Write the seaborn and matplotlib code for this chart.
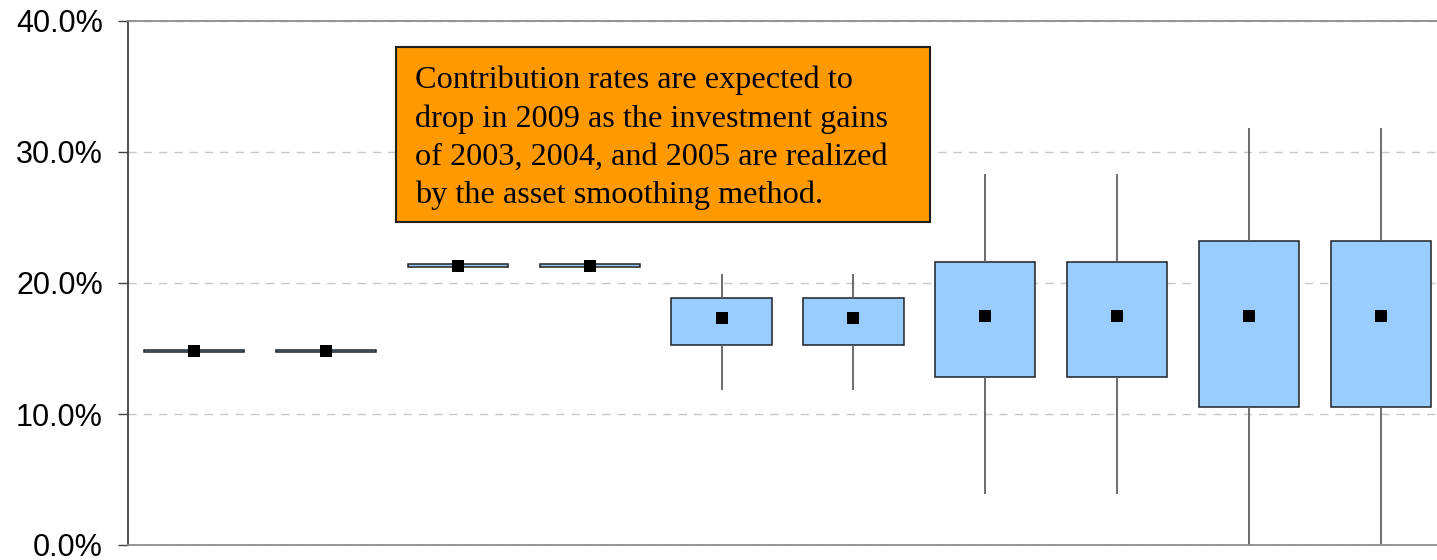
import numpy as np
import pandas as pd
import matplotlib
matplotlib.use("Agg")
import matplotlib.pyplot as plt
import matplotlib.patches as mpatches
from matplotlib.ticker import PercentFormatter, MultipleLocator
import seaborn as sns

# =======================================
# Data (percent)
# =======================================
CATEGORIES = ["2007 A", "2007 B", "2008 A", "2008 B", "2009 A",
              "2009 B", "2010 A", "2010 B", "2011 A", "2011 B"]
WHISKER_LOW = [14.7, 14.7, 21.2, 21.2, 11.8, 11.8, 3.9, 3.9, 0.0, 0.0]
Q1 = [14.7, 14.7, 21.2, 21.2, 15.3, 15.3, 12.8, 12.8, 10.5, 10.5]
MEDIAN = [14.8, 14.8, 21.3, 21.3, 17.3, 17.3, 17.5, 17.5, 17.5, 17.5]
Q3 = [14.9, 14.9, 21.45, 21.45, 18.85, 18.85, 21.6, 21.6, 23.2, 23.2]
WHISKER_HIGH = [14.9, 14.9, 21.45, 21.45, 20.7, 20.7, 28.3, 28.3, 31.8, 31.8]

NOTE = ("Contribution rates are expected to\n"
        "drop in 2009 as the investment gains\n"
        "of 2003, 2004, and 2005 are realized\n"
        "by the asset smoothing method.")

BOX_COLOR = "#99CCFF"
NOTE_COLOR = "#FF9900"


# =======================================
# Long table: five summary points per box
# =======================================
def build_table():
    rows = []
    for i, cat in enumerate(CATEGORIES):
        for v in (WHISKER_LOW[i], Q1[i], MEDIAN[i], Q3[i], WHISKER_HIGH[i]):
            rows.append({"category": cat, "rate": v})
    return pd.DataFrame(rows)


def main():
    sns.set_theme(style="white")
    plt.rcParams["font.family"] = ["Liberation Sans", "DejaVu Sans"]

    df = build_table()

    fig = plt.figure(figsize=(14.37, 5.60), dpi=100)
    ax = fig.add_axes([128 / 1437, 15 / 560, 1319 / 1437, 524 / 560])

    sns.boxplot(
        data=df, x="category", y="rate", order=CATEGORIES,
        whis=np.inf, width=0.76, color=BOX_COLOR, saturation=1,
        linewidth=1.1, showcaps=False, showfliers=False,
        boxprops=dict(facecolor=BOX_COLOR, edgecolor="#202020"),
        whiskerprops=dict(color="#606060", linewidth=1.3),
        medianprops=dict(visible=False),
        ax=ax,
    )
    # median shown as a black square
    sns.stripplot(
        x=CATEGORIES, y=MEDIAN, order=CATEGORIES, jitter=False,
        marker="s", color="black", size=8.5, linewidth=0, ax=ax, zorder=5,
    )

    ax.set_xlim(-0.5, len(CATEGORIES) - 0.5)
    ax.set_ylim(0, 40)
    ax.yaxis.set_major_locator(MultipleLocator(10))
    ax.yaxis.set_major_formatter(PercentFormatter(decimals=1))
    ax.set_xlabel("")
    ax.set_ylabel("")
    ax.set_xticks([])

    ax.grid(axis="y", color="#C8C8C8", linestyle=(0, (6, 5)), linewidth=1)
    ax.set_axisbelow(True)

    ax.spines["left"].set_color("#404040")
    ax.spines["left"].set_linewidth(1.3)
    for side in ("top", "bottom", "right"):
        ax.spines[side].set_color("#8C8C8C")
        ax.spines[side].set_linewidth(1.3)

    ax.tick_params(axis="y", which="major", direction="out", length=7,
                   width=1, color="#404040", pad=11, labelsize=22,
                   labelcolor="black", left=True)

    # orange note box
    ax.add_patch(mpatches.Rectangle(
        (1.53, 24.66), 4.05, 13.34, facecolor=NOTE_COLOR,
        edgecolor="#202020", linewidth=1.5, zorder=6))
    ax.text(1.675, 36.6, NOTE, ha="left", va="top", fontsize=23.2,
            family=["Liberation Serif", "DejaVu Serif"], linespacing=1.4,
            color="black", zorder=7)

    fig.savefig("out.png", dpi=100)


if __name__ == "__main__":
    main()
